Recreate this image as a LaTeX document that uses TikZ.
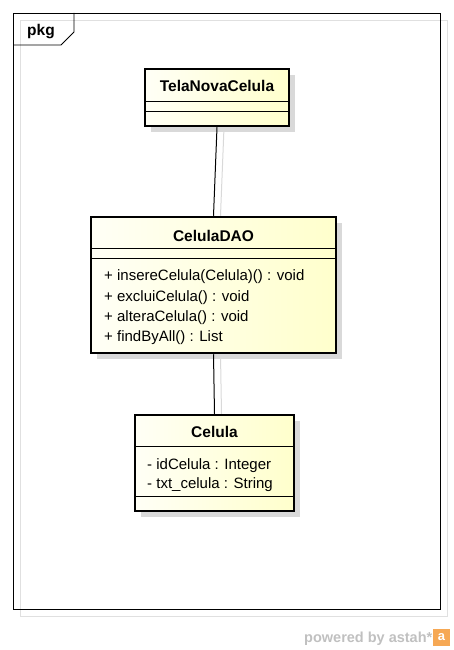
\documentclass[tikz,border=0pt]{standalone}
\usepackage{fontspec}
\setmainfont{Liberation Sans}
\usetikzlibrary{shadows}

\definecolor{ivoryL}{RGB}{255,255,246}
\definecolor{ivoryR}{RGB}{255,255,204}
\definecolor{astahgray}{RGB}{192,192,192}
\definecolor{astahorange}{RGB}{246,168,84}

\begin{document}
\begin{tikzpicture}[
  x=1pt, y=-1pt,
  umlclass/.style={rectangle, draw, line width=2.5pt, inner sep=0pt,
    left color=ivoryL, right color=ivoryR,
    drop shadow={shadow xshift=6pt, shadow yshift=-6pt, fill=black!15, opacity=1}},
  classname/.style={font=\fontsize{15.5}{18}\selectfont\bfseries, inner sep=0pt, anchor=base},
  member/.style={font=\fontsize{15}{18}\selectfont, inner sep=0pt, anchor=base west},
  compart/.style={line width=0.8pt},
  frameline/.style={line width=0.9pt},
  assoc/.style={line width=1pt},
  assocshadow/.style={line width=1pt, black!15}
  ]

  \useasboundingbox (0,0) rectangle (453,650);

  % Package frame with its tab
  \draw[black!12, line width=0.9pt] (20,20) rectangle (447,616);
  \draw[frameline] (13,13) rectangle (440,609);
  \draw[frameline] (13,45) -- (61,45) -- (74,32) -- (74,13);
  \node[classname] (pkg) at (41,36) {pkg};

  % The three classes
  \node[umlclass, minimum width=144pt, minimum height=57pt] (tela) at (217,97.5) {};
  \node[umlclass, minimum width=245pt, minimum height=136pt] (dao) at (213.5,285) {};
  \node[umlclass, minimum width=159pt, minimum height=96pt] (celula) at (214.5,463) {};

  % Compartment lines
  \draw[compart] (145,101) -- (289,101);
  \draw[compart] (145,111) -- (289,111);
  \draw[compart] (91,248) -- (336,248);
  \draw[compart] (91,258) -- (336,258);
  \draw[compart] (135,446) -- (294,446);
  \draw[compart] (135,496) -- (294,496);

  % Names
  \node[classname] (telaName) at (217,92) {TelaNovaCelula};
  \node[classname] (daoName) at (213.5,241) {CelulaDAO};
  \node[classname] (celulaName) at (214.5,437) {Celula};

  % Operations of CelulaDAO
  \node[member] (opInsere) at (104,280.5) {+ insereCelula(Celula)() : void};
  \node[member] (opExclui) at (104,301) {+ excluiCelula() : void};
  \node[member] (opAltera) at (104,321) {+ alteraCelula() : void};
  \node[member] (opFind) at (104,341) {+ findByAll() : List};

  % Attributes of Celula
  \node[member] (atId) at (147,469) {- idCelula : Integer};
  \node[member] (atTxt) at (147,488) {- txt\_celula : String};

  % Associations
  \draw[assocshadow, transform canvas={xshift=7pt}] (tela.south) -- (dao.north);
  \draw[assocshadow, transform canvas={xshift=7pt}] (dao.south) -- (celula.north);
  \draw[assoc] (tela.south) -- (dao.north);
  \draw[assoc] (dao.south) -- (celula.north);

  % Footer
  \node[font=\fontsize{14.5}{16}\selectfont\bfseries, text=astahgray, anchor=base west, inner sep=0pt] (powered) at (304,642) {powered by astah*};
  \node[fill=astahorange, minimum size=17pt, inner sep=0pt, text=white, font=\fontsize{13}{13}\selectfont\bfseries] (logo) at (441.5,637) {a};

\end{tikzpicture}
\end{document}
